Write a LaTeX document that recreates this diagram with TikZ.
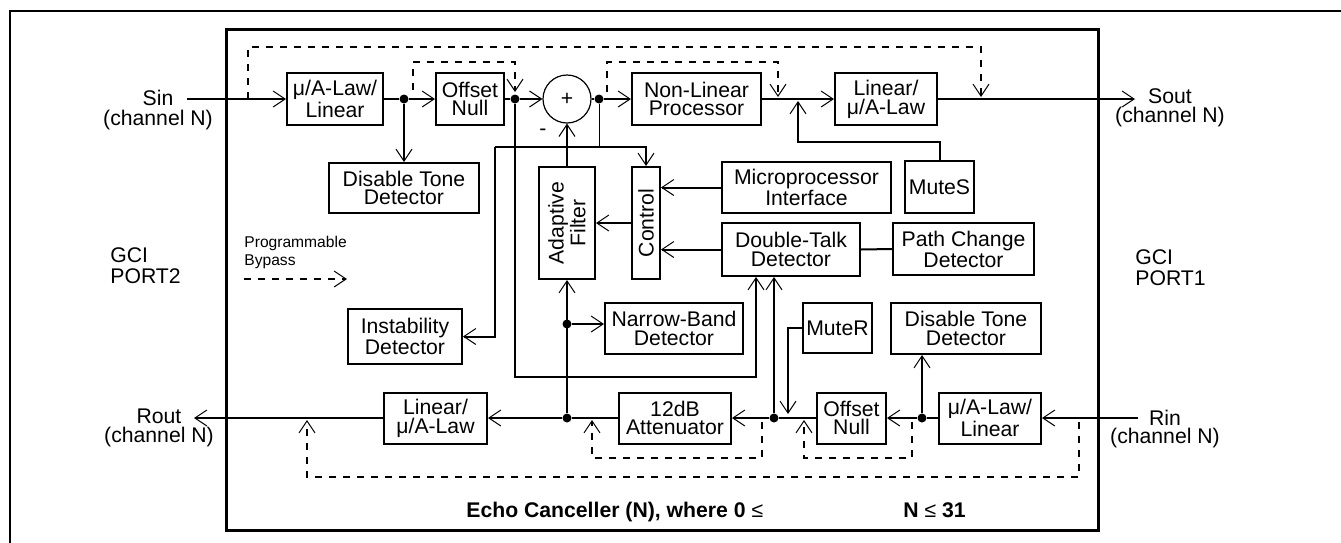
\documentclass[tikz,border=0pt]{standalone}
\usepackage{fontspec}
\setmainfont{Liberation Sans}
\usetikzlibrary{arrows.meta}

\begin{document}
\begin{tikzpicture}[x=0.5pt,y=-0.5pt]
\tikzstyle{every node}=[font=\fontsize{10.6}{9.4}\selectfont, inner sep=0pt]
\tikzstyle{block}=[draw, line width=1pt, align=center, minimum height=26pt]
\tikzstyle{vblock}=[block, rotate=90, minimum width=56pt]
\tikzstyle{portlbl}=[align=center, font=\fontsize{10.6}{9.6}\selectfont]
\tikzstyle{sig}=[line width=1pt]
\tikzstyle{arr}=[sig, -{Straight Barb[length=6pt,width=8pt,line width=0.5pt]}]
\tikzstyle{byp}=[arr, dash pattern=on 3.5pt off 3.5pt]
\tikzstyle{jdot}=[circle, fill, minimum size=4.5pt]

\useasboundingbox (0,0) rectangle (1341,542);
\draw[line width=1.2pt] (10,11) rectangle (1360,560);
\draw[line width=1.5pt] (226,29) rectangle (1098,530);

\node[block, minimum width=48pt] (lawS) at (335,99) {μ/A-Law/\\Linear};
\node[block, minimum width=34pt] (offS) at (470,99) {Offset\\Null};
\node[draw, line width=0.6pt, circle, minimum size=24pt] (add) at (567,99) {+};
\node (minus) at (543,132) {-};
\node[block, minimum width=64.5pt] (nlp) at (696.5,99) {Non-Linear\\Processor};
\node[block, minimum width=51pt] (linS) at (886,99) {Linear/\\μ/A-Law};
\node[block, minimum width=75pt, minimum height=25pt] (dtdS) at (404,188) {Disable Tone\\Detector};
\node[block, minimum width=84.5pt, minimum height=25.5pt] (mpi) at (806.5,187.5) {Microprocessor\\Interface};
\node[block, minimum width=34.5pt] (muteS) at (939.5,187) {MuteS};
\node[vblock, minimum height=14pt] (ctrl) at (646,223) {Control};
\node[vblock, minimum height=28pt] (adf) at (567,223) {Adaptive\\Filter};
\node[block, minimum width=69pt, minimum height=26.5pt] (dtk) at (791,249.5) {Double-Talk\\Detector};
\node[block, minimum width=70.5pt] (pcd) at (963.5,249) {Path Change\\Detector};
\node[block, minimum width=69pt, minimum height=25.5pt] (nbd) at (674,328.5) {Narrow-Band\\Detector};
\node[block, minimum width=57pt, minimum height=27.5pt] (inst) at (405,336.5) {Instability\\Detector};
\node[block, minimum width=34.5pt, minimum height=25pt] (muteR) at (837.5,328) {MuteR};
\node[block, minimum width=75pt, minimum height=25.5pt] (dtdR) at (966,328.5) {Disable Tone\\Detector};
\node[block, minimum width=51pt, minimum height=25.5pt] (lawR) at (990,418) {μ/A-Law/\\Linear};
\node[block, minimum width=34.5pt, minimum height=25.5pt] (offR) at (851.5,418) {Offset\\Null};
\node[block, minimum width=56pt, minimum height=25.5pt] (att) at (675,418) {12dB\\Attenuator};
\node[block, minimum width=51.5pt, minimum height=25.5pt] (linR) at (435.5,418) {Linear/\\μ/A-Law};

\node[jdot] (d1) at (404,99) {};
\node[jdot] (d2) at (515,99) {};
\node[jdot] (d3) at (599,99) {};
\node[jdot] (d4) at (567,324) {};
\node[jdot] (d5) at (567,418) {};
\node[jdot] (d6) at (774,418) {};
\node[jdot] (d7) at (922,418) {};

\coordinate (sin) at (187,99);
\coordinate (sout) at (1135,99);
\coordinate (rin) at (1138,418);
\coordinate (rout) at (194,418);
\coordinate (msj) at (798,99);
\coordinate (tl) at (495,147);
\coordinate (mrj) at (788,418);

\draw[arr] (sin) -- (lawS.west);
\draw[sig] (lawS.east) -- (d1);
\draw[arr] (d1) -- (offS.west);
\draw[arr] (d1) -- (dtdS.north);
\draw[sig] (offS.east) -- (d2);
\draw[arr] (d2) -- (add.west);
\draw[sig] (add.east) -- (d3);
\draw[arr] (d3) -- (nlp.west);
\draw[arr] (nlp.east) -- (linS.west);
\draw[arr] (linS.east) -- (sout);
\draw[arr, shorten >=1pt] (muteS.north) -- ++(0,-18) -| (msj);
\draw[arr] (adf.east) -- (add.south);
\draw[line width=0.5pt] (d3) -- (d3 |- tl);
\draw[arr] (tl) -| (ctrl.east);
\draw[arr] (tl) |- (inst.east);
\draw[arr] (d2) -- ++(0,278) -| ([xshift=-17.5pt]dtk.south);
\draw[arr] (mpi.west) -- (mpi.west -| ctrl.south);
\draw[arr] (dtk.west) -- (dtk.west -| ctrl.south);
\draw[arr] (ctrl.north) -- (adf.south);
\draw[sig] (dtk.east) -- (pcd.west);
\draw[arr] (d5) -- (adf.west);
\draw[arr] (d4) -- (d4 -| nbd.west);
\draw[arr] (d6) -- (d6 |- dtk.south);
\draw[arr, shorten >=2pt] (muteR.west) -| (mrj);
\draw[arr] (d7) -- (d7 |- dtdR.south);
\draw[arr] (rin) -- (lawR.east);
\draw[sig] (lawR.west) -- (d7);
\draw[arr] (d7) -- (offR.east);
\draw[sig] (offR.west) -- (d6);
\draw[arr] (d6) -- (att.east);
\draw[sig] (att.west) -- (d5);
\draw[arr] (d5) -- (linR.east);
\draw[arr] (linR.west) -- (rout);

\coordinate (bsi) at (248,99);
\coordinate (bso) at (981,99);
\coordinate (nlj) at (778,99);
\coordinate (rbi) at (1079,418);
\coordinate (rbo) at (307,418);
\coordinate (abo) at (592,418);
\coordinate (obo) at (804,418);
\draw[byp, shorten >=1pt] (bsi) -- ++(0,-52) -| (bso);
\draw[byp] ([xshift=4.5pt,yshift=4.5pt]d1.center) -- ++(0,-28) -| ([yshift=3.5pt]d2.center);
\draw[byp, shorten >=1pt] ([xshift=4pt,yshift=3.5pt]d3.center) -- ++(0,-30) -| (nlj);
\draw[byp, shorten >=1pt] ([yshift=-2pt]rbi) -- ++(0,55) -| (rbo);
\draw[byp, shorten >=1pt] ([xshift=-6pt,yshift=-2pt]d6.center) -- ++(0,36) -| (abo);
\draw[byp, shorten >=1pt] ([xshift=-5pt,yshift=-2pt]d7.center) -- ++(0,36) -| (obo);

\node[anchor=west, align=left, font=\fontsize{7.8}{9}\selectfont] (bptxt) at (244,252) {Programmable\\Bypass};
\coordinate (lg1) at (244,279);
\coordinate (lg2) at (347,279);
\draw[byp] (lg1) -- (lg2);

\node[portlbl] (sinL) at (158,110) {Sin\\(channel N)};
\node[portlbl] (soutL) at (1170,108) {Sout\\(channel N)};
\node[portlbl] (routL) at (159,428) {Rout\\(channel N)};
\node[portlbl, font=\fontsize{10.6}{9.2}\selectfont] (rinL) at (1165,429) {Rin\\(channel N)};
\node[anchor=west, align=left, font=\fontsize{10.6}{10.5}\selectfont] (gci2) at (110,266) {GCI\\PORT2};
\node[anchor=west, align=left, font=\fontsize{10.6}{10.5}\selectfont] (gci1) at (1135,268) {GCI\\PORT1};
\node[anchor=base west, font=\fontsize{10.6}{10}\selectfont\bfseries] (ecn) at (466,517) {Echo Canceller (N), where 0 {\mdseries ≤}};
\node[anchor=base west, font=\fontsize{10.6}{10}\selectfont\bfseries] (ecm) at (903,517) {N {\mdseries ≤} 31};

\end{tikzpicture}
\end{document}
